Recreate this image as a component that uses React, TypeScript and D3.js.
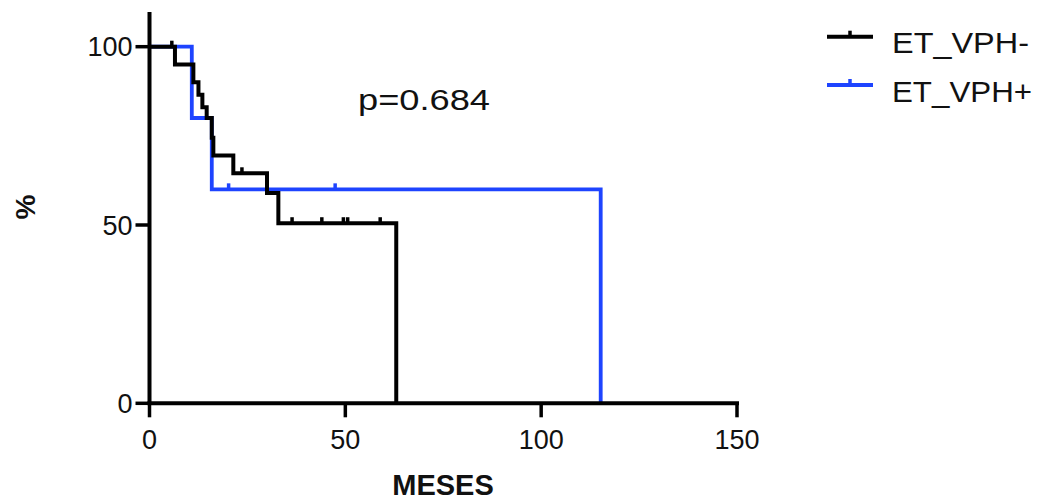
import React from "react";
import * as d3 from "d3";

// Kaplan-Meier step data: [months, percent] after each event
const seriesNames = ["ET_VPH-", "ET_VPH+"];
const blackSteps: [number, number][] = [
  [0, 100], [6.5, 95], [11.2, 90], [12.5, 86.5], [13.5, 83], [14.6, 80],
  [15.9, 74.5], [16.3, 69.5], [21.4, 64.5], [30, 59], [32.9, 50.5], [63, 0],
];
const blackCensors: [number, number][] = [
  [5.7, 100], [23.6, 64.5], [36.4, 50.5], [44, 50.5], [49.5, 50.5], [50.6, 50.5], [58.9, 50.5],
];
const blueSteps: [number, number][] = [
  [0, 100], [10.8, 80], [15.9, 60], [115.2, 0],
];
const blueCensors: [number, number][] = [
  [20.2, 60], [47.4, 60],
];
const xTicks = [0, 50, 100, 150];
const yTicks = [0, 50, 100];
const pLabel = "p=0.684";

const BLUE = "#1e44ff";
const FONT = "'Liberation Sans', Arial, Helvetica, sans-serif";

export default function App() {
  const x = d3.scaleLinear().domain([0, 150]).range([149.5, 737]);
  const y = d3.scaleLinear().domain([0, 100]).range([403.3, 46.7]);
  const line = d3
    .line<[number, number]>()
    .x((d) => x(d[0]))
    .y((d) => y(d[1]))
    .curve(d3.curveStepAfter);

  const censorTicks = (pts: [number, number][], color: string) =>
    pts.map((p, i) => (
      <line
        key={i}
        x1={x(p[0])}
        x2={x(p[0])}
        y1={y(p[1])}
        y2={y(p[1]) - 6}
        stroke={color}
        strokeWidth={3.5}
      />
    ));

  return (
    <svg
      width={1042}
      height={500}
      style={{ position: "absolute", left: 0, top: 0, background: "#fff" }}
      fontFamily={FONT}
    >
      {/* curves */}
      <path d={line(blueSteps) || ""} fill="none" stroke={BLUE} strokeWidth={3.8} />
      {censorTicks(blueCensors, BLUE)}
      <path d={line(blackSteps) || ""} fill="none" stroke="#000" strokeWidth={4} />
      {censorTicks(blackCensors, "#000")}

      {/* y axis */}
      <line x1={x(0)} x2={x(0)} y1={12} y2={y(0)} stroke="#000" strokeWidth={4} />
      {yTicks.map((t) => (
        <g key={t}>
          <line x1={x(0) - 14} x2={x(0)} y1={y(t)} y2={y(t)} stroke="#000" strokeWidth={3.5} />
          <text x={x(0) - 17} y={y(t)} dy="0.36em" textAnchor="end" fontSize={27} fill="#111">
            {t}
          </text>
        </g>
      ))}
      {/* x axis */}
      <line x1={x(0) - 2} x2={x(150) + 2} y1={y(0)} y2={y(0)} stroke="#000" strokeWidth={4} />
      {xTicks.map((t) => (
        <g key={t}>
          <line x1={x(t)} x2={x(t)} y1={y(0)} y2={y(0) + 14} stroke="#000" strokeWidth={3.5} />
          <text x={x(t)} y={449} textAnchor="middle" fontSize={27} fill="#111">
            {t}
          </text>
        </g>
      ))}

      {/* axis titles */}
      <text x={443} y={495} textAnchor="middle" fontSize={29} fontWeight="bold" fill="#111">
        MESES
      </text>
      <text
        transform="translate(35,207) rotate(-90)"
        textAnchor="middle"
        fontSize={28}
        fontWeight="bold"
        fill="#111"
      >
        %
      </text>

      {/* p value */}
      <text x={358} y={110} fontSize={29} fill="#111" textLength={132} lengthAdjust="spacingAndGlyphs">
        {pLabel}
      </text>

      {/* legend */}
      {seriesNames.map((name, i) => {
        const ly = i === 0 ? 36.7 : 85;
        const color = i === 0 ? "#000" : BLUE;
        return (
          <g key={name}>
            <line x1={827} x2={873} y1={ly} y2={ly} stroke={color} strokeWidth={4} />
            <line x1={850} x2={850} y1={ly} y2={ly - 6} stroke={color} strokeWidth={3.5} />
            <text
              x={892}
              y={ly + 16.5}
              fontSize={29}
              fill="#111"
              textLength={i === 0 ? 137 : 140}
              lengthAdjust="spacingAndGlyphs"
            >
              {name}
            </text>
          </g>
        );
      })}
    </svg>
  );
}
